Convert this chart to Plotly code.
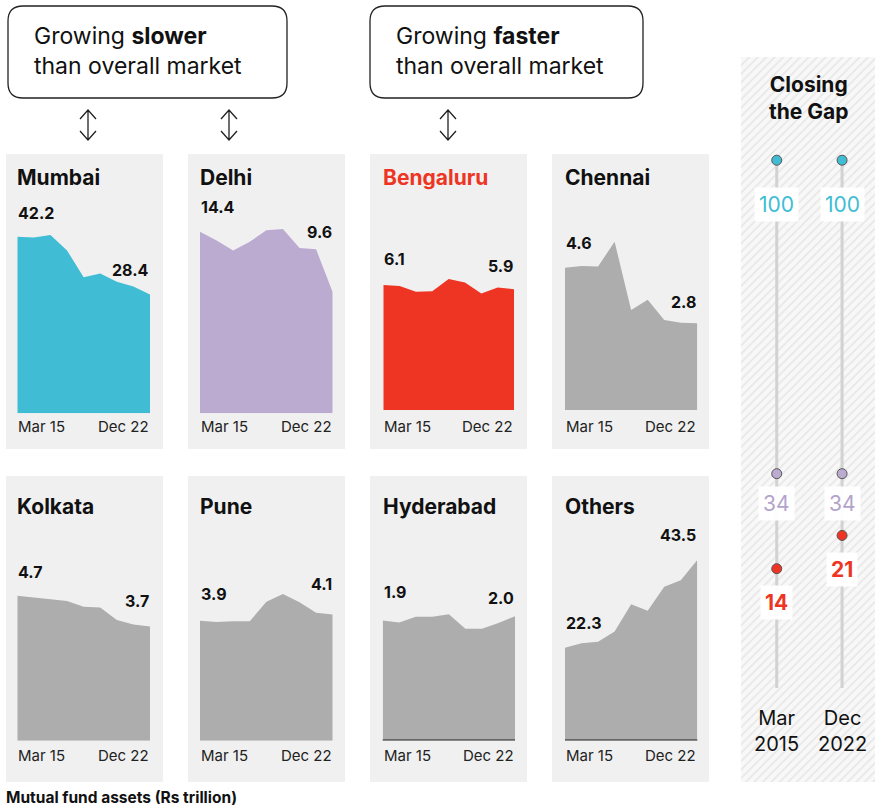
import plotly.graph_objects as go

W, H = 875, 809

# ---------------- data ----------------
periods = ["Mar 15", "Mar 16", "Mar 17", "Mar 18", "Mar 19", "Mar 20", "Mar 21", "Mar 22", "Dec 22"]
cities = ["Mumbai", "Delhi", "Bengaluru", "Chennai", "Kolkata", "Pune", "Hyderabad", "Others"]
mumbai = [42.2, 42.0, 42.6, 38.9, 32.5, 33.4, 31.4, 30.3, 28.4]
delhi = [14.4, 13.7, 12.9, 13.6, 14.5, 14.6, 13.1, 13.0, 9.6]
bengaluru = [6.1, 6.05, 5.77, 5.8, 6.39, 6.23, 5.69, 5.98, 5.9]
chennai = [4.6, 4.65, 4.64, 5.44, 3.23, 3.56, 2.91, 2.82, 2.8]
kolkata = [4.7, 4.64, 4.58, 4.53, 4.34, 4.32, 3.91, 3.77, 3.7]
pune = [3.9, 3.86, 3.88, 3.88, 4.52, 4.77, 4.5, 4.16, 4.1]
hyderabad = [1.9, 1.87, 1.96, 1.96, 2.0, 1.77, 1.77, 1.86, 1.97]
others = [22.3, 23.35, 23.75, 26.2, 32.8, 31.2, 37.0, 38.6, 43.5]
series = [mumbai, delhi, bengaluru, chennai, kolkata, pune, hyderabad, others]

gap_periods = ["Mar<br>2015", "Dec<br>2022"]
gap_mumbai = [100, 100]
gap_delhi = [34, 34]
gap_bengaluru = [14, 21]

# ---------------- styles / positions ----------------
TEAL = "#40bdd4"
LAV = "#bcabd1"
RED = "#ee3524"
GRAY = "#adadad"
BG = "#f0f0f0"
INK = "#111111"
FONT = "Inter"

colors = [TEAL, LAV, RED, GRAY, GRAY, GRAY, GRAY, GRAY]
title_colors = [INK, INK, RED, INK, INK, INK, INK, INK]
plot_x = [(17.3, 150), (200, 332.7), (383.3, 514), (565, 697.3),
          (17.3, 150), (200, 332.7), (382.7, 515), (565, 697.3)]
bg_x = [(6, 163), (188, 345), (370, 527), (552, 709)] * 2
base_y = [413.3, 413.3, 410, 410, 740.7, 740.7, 740, 740]
top_y = [190] * 4 + [510] * 4
y_max = [53.35, 17.70, 10.74, 7.11, 7.48, 7.50, 3.66, 55.55]
bg_y = [(154, 449)] * 4 + [(476, 782)] * 4
title_y = [177] * 4 + [506] * 4
tick_y = [426] * 4 + [755] * 4
label_shift = [(24, 24), (25, 60), (26, 23), (25, 21), (24, 26), (27, 31), (29, 18), (25, 25)]


def px(x):
    return x / W


def py(y):
    return 1 - y / H


fig = go.Figure()
layout = dict(
    width=W, height=H, margin=dict(l=0, r=0, t=0, b=0),
    paper_bgcolor="white", plot_bgcolor="rgba(0,0,0,0)",
    showlegend=False, font=dict(family=FONT, color=INK),
)
shapes = []
annotations = []

for i, (name, vals) in enumerate(zip(cities, series)):
    k = i + 1
    xa, ya = f"x{k}", f"y{k}"
    x0, x1 = plot_x[i]
    layout[f"xaxis{k}"] = dict(domain=[px(x0), px(x1)], range=[0, len(periods) - 1],
                               visible=False, fixedrange=True)
    layout[f"yaxis{k}"] = dict(domain=[py(base_y[i]), py(top_y[i])], range=[0, y_max[i]],
                               visible=False, fixedrange=True)
    bx0, bx1 = bg_x[i]
    by0, by1 = bg_y[i]
    shapes.append(dict(type="rect", xref="paper", yref="paper", x0=px(bx0), x1=px(bx1),
                       y0=py(by1), y1=py(by0), fillcolor=BG, line=dict(width=0), layer="below"))
    fig.add_trace(go.Scatter(x=list(range(len(periods))), y=vals, mode="lines",
                             fill="tozeroy", fillcolor=colors[i],
                             line=dict(width=0, color=colors[i]),
                             xaxis=xa, yaxis=ya, hoverinfo="skip"))
    if name in ("Hyderabad", "Others"):
        shapes.append(dict(type="line", xref="paper", yref="paper", x0=px(x0), x1=px(x1),
                           y0=py(base_y[i]), y1=py(base_y[i]),
                           line=dict(color="#222222", width=1.2)))
    annotations.append(dict(text=f"<b>{name}</b>", xref="paper", yref="paper",
                            x=px(x0), y=py(title_y[i]), xanchor="left", yanchor="middle",
                            xshift=-2, showarrow=False,
                            font=dict(size=21, color=title_colors[i])))
    annotations.append(dict(text=periods[0], xref="paper", yref="paper",
                            x=px(x0), y=py(tick_y[i]), xanchor="left", yanchor="middle",
                            xshift=-1, showarrow=False, font=dict(size=15, color="#222222")))
    annotations.append(dict(text=periods[-1], xref="paper", yref="paper",
                            x=px(x1), y=py(tick_y[i]), xanchor="right", yanchor="middle",
                            xshift=1, showarrow=False, font=dict(size=15, color="#222222")))
    s0, s1 = label_shift[i]
    annotations.append(dict(text=f"<b>{vals[0]:.1f}</b>", xref=xa, yref=ya,
                            x=0, y=vals[0], xanchor="left", yanchor="middle", yshift=s0,
                            xshift=-1, showarrow=False, font=dict(size=16, color=INK)))
    annotations.append(dict(text=f"<b>{vals[-1]:.1f}</b>", xref=xa, yref=ya,
                            x=len(vals) - 1, y=vals[-1], xanchor="right", yanchor="middle",
                            yshift=s1, xshift=1, showarrow=False, font=dict(size=16, color=INK)))

# ---------------- top boxes and arrows ----------------
def rounded(x0, y0, x1, y1, r):
    X0, X1 = px(x0), px(x1)
    Y0, Y1 = py(y0), py(y1)
    rx, ry = r / W, r / H
    return (f"M {X0+rx},{Y0} L {X1-rx},{Y0} Q {X1},{Y0} {X1},{Y0-ry} "
            f"L {X1},{Y1+ry} Q {X1},{Y1} {X1-rx},{Y1} L {X0+rx},{Y1} "
            f"Q {X0},{Y1} {X0},{Y1+ry} L {X0},{Y0-ry} Q {X0},{Y0} {X0+rx},{Y0} Z")


for (bx0, bx1), word in [((8, 287), "slower"), ((370, 643), "faster")]:
    shapes.append(dict(type="path", xref="paper", yref="paper", path=rounded(bx0, 6, bx1, 98, 15),
                       line=dict(color="#222222", width=1.3), fillcolor="white"))
    annotations.append(dict(text=f"Growing <b>{word}</b>", xref="paper", yref="paper",
                            x=px(bx0 + 24), y=py(36), xanchor="left", yanchor="middle",
                            showarrow=False, font=dict(size=23, color=INK)))
    annotations.append(dict(text="than overall market", xref="paper", yref="paper",
                            x=px(bx0 + 24), y=py(66), xanchor="left", yanchor="middle",
                            showarrow=False, font=dict(size=23, color=INK)))

for ax in (88, 229, 448):
    path = (f"M {px(ax)},{py(110)} L {px(ax)},{py(140)} "
            f"M {px(ax-8)},{py(119)} L {px(ax)},{py(110)} L {px(ax+8)},{py(119)} "
            f"M {px(ax-8)},{py(131)} L {px(ax)},{py(140)} L {px(ax+8)},{py(131)}")
    shapes.append(dict(type="path", xref="paper", yref="paper", path=path,
                       line=dict(color="#222222", width=1.3)))

# ---------------- closing the gap panel ----------------
layout["xaxis9"] = dict(domain=[px(741), 1], range=[-0.5, 0.5], visible=False, fixedrange=True)
layout["yaxis9"] = dict(domain=[py(782), py(57)], range=[0, 1], visible=False, fixedrange=True)
fig.add_trace(go.Bar(x=[0], y=[1], width=[1], xaxis="x9", yaxis="y9", hoverinfo="skip",
                     marker=dict(color="#d6d6d6", line=dict(width=0),
                                 pattern=dict(shape="/", fgcolor="#d6d6d6", bgcolor="#f8f8f8",
                                              size=6, solidity=0.3))))

gap_ymin, gap_ymax = -11.12, 121.73
layout["xaxis10"] = dict(domain=[px(741), 1], range=[-0.547, 1.504], visible=False, fixedrange=True)
layout["yaxis10"] = dict(domain=[py(688), py(57)], range=[gap_ymin, gap_ymax], visible=False,
                         fixedrange=True)
for j in range(len(gap_periods)):
    fig.add_trace(go.Scatter(x=[j, j], y=[gap_mumbai[j], gap_ymin], mode="lines",
                             line=dict(color="#d2d2d2", width=3), xaxis="x10", yaxis="y10",
                             hoverinfo="skip"))

gap_sets = [(gap_mumbai, TEAL, TEAL, False, -44),
            (gap_delhi, LAV, "#b3a3cc", False, -30),
            (gap_bengaluru, RED, RED, True, -34)]
for vals, c, tc, bold, shift in gap_sets:
    fig.add_trace(go.Scatter(x=list(range(len(vals))), y=vals, mode="markers",
                             marker=dict(color=c, size=10, line=dict(color="#555555", width=1)),
                             xaxis="x10", yaxis="y10", hoverinfo="skip"))
    for j, v in enumerate(vals):
        t = f"<b>{v}</b>" if bold else f"{v}"
        annotations.append(dict(text=t, xref="x10", yref="y10", x=j, y=v, yshift=shift,
                                xanchor="center", yanchor="middle", showarrow=False,
                                bgcolor="rgba(255,255,255,0.95)", borderpad=4,
                                font=dict(size=21, color=tc)))

for j, lab in enumerate(gap_periods):
    annotations.append(dict(text=lab, xref="x10", yref="paper", x=j, y=py(731),
                            xanchor="center", yanchor="middle", showarrow=False,
                            font=dict(size=20, color=INK)))

annotations.append(dict(text="<b>Closing<br>the Gap</b>", xref="paper", yref="paper",
                        x=px(809), y=py(98.5), xanchor="center", yanchor="middle",
                        showarrow=False, font=dict(size=21, color=INK)))

annotations.append(dict(text="<b>Mutual fund assets (Rs trillion)</b>", xref="paper", yref="paper",
                        x=px(4), y=py(797), xanchor="left", yanchor="middle",
                        showarrow=False, font=dict(size=15.5, color=INK)))

layout["shapes"] = shapes
layout["annotations"] = annotations
fig.update_layout(**layout)
fig.write_html("out.html")
